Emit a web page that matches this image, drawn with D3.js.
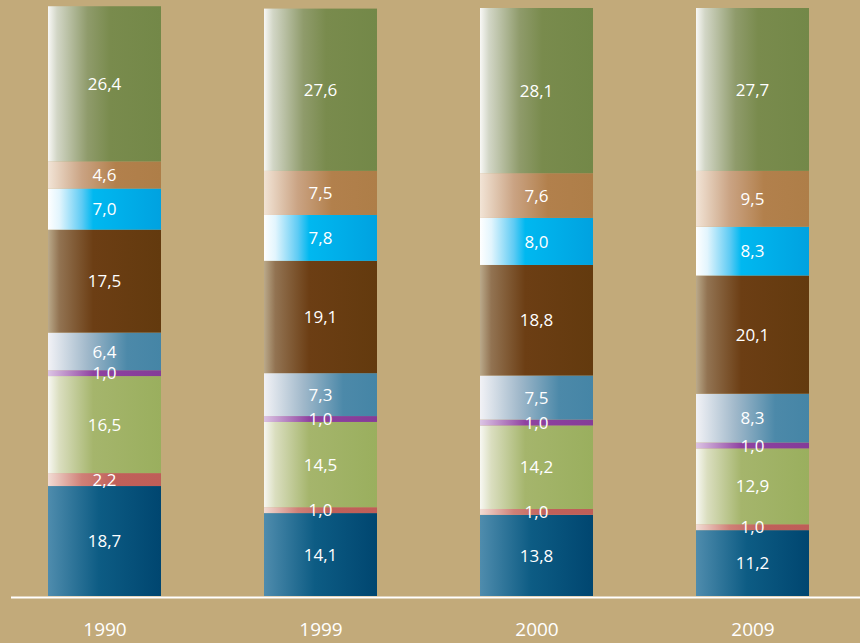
<!DOCTYPE html>
<html>
<head>
<meta charset="utf-8">
<script src="https://cdn.jsdelivr.net/npm/d3@7"></script>
<style>
  html, body { margin: 0; padding: 0; background: #c2aa7a; }
  svg { display: block; }
  text { font-family: "Open Sans", "Noto Sans", sans-serif; fill: #ffffff; }
</style>
</head>
<body>
<svg id="chart" width="860" height="643"></svg>
<script>
// Years on the x axis
const years = ["1990", "1999", "2000", "2009"];

// Stack layers, bottom to top
const layers = ["navy", "red", "lightGreen", "purple", "steel", "brown", "cyan", "tan", "olive"];

// Share of each layer (%) per year, bottom to top
const navy       = [18.7, 14.1, 13.8, 11.2];
const red        = [2.2, 1.0, 1.0, 1.0];
const lightGreen = [16.5, 14.5, 14.2, 12.9];
const purple     = [1.0, 1.0, 1.0, 1.0];
const steel      = [6.4, 7.3, 7.5, 8.3];
const brown      = [17.5, 19.1, 18.8, 20.1];
const cyan       = [7.0, 7.8, 8.0, 8.3];
const tan        = [4.6, 7.5, 7.6, 9.5];
const olive      = [26.4, 27.6, 28.1, 27.7];

const seriesValues = { navy, red, lightGreen, purple, steel, brown, cyan, tan, olive };

// Horizontal shading of each layer: pale at the left edge, full colour to the right
const shades = {
  navy:       [[0, "#4f8cad"], [0.45, "#0d5c84"], [1, "#004670"]],
  red:        [[0, "#f2dcd4"], [0.3, "#cf8077"], [0.6, "#c0605a"], [1, "#bf5e58"]],
  lightGreen: [[0, "#f8f8f3"], [0.1, "#dadebf"], [0.4, "#a5b56c"], [1, "#9aaf5e"]],
  purple:     [[0, "#dcc4e4"], [0.4, "#8f42a1"], [1, "#843c98"]],
  steel:      [[0, "#f2f2f6"], [0.35, "#a0b8ca"], [0.7, "#4c89a9"], [1, "#4585a6"]],
  brown:      [[0, "#baa98a"], [0.1, "#927352"], [0.4, "#6c3e14"], [1, "#633a0e"]],
  cyan:       [[0, "#ffffff"], [0.1, "#e2f5fd"], [0.3, "#5ecbf4"], [0.4, "#00b8f0"], [1, "#00a2e0"]],
  tan:        [[0, "#f2e4d6"], [0.3, "#caa383"], [0.6, "#b2804c"], [1, "#ae7e48"]],
  olive:      [[0, "#f8f8f6"], [0.08, "#d2d6c6"], [0.35, "#8f9b6b"], [0.55, "#798b4d"], [1, "#738848"]]
};

const rows = years.map((year, i) => {
  const row = { year };
  layers.forEach(k => { row[k] = seriesValues[k][i]; });
  return row;
});

const svg = d3.select("#chart");
const width = 860, height = 643;
const barWidth = 113;

const x = d3.scalePoint().domain(years).range([104.5, 752.5]);
const y = d3.scaleLinear().domain([0, 100]).range([596, 8]);

// Gradient definitions
const defs = svg.append("defs");
layers.forEach(k => {
  const g = defs.append("linearGradient")
    .attr("id", "grad-" + k)
    .attr("x1", "0%").attr("x2", "100%")
    .attr("y1", "0%").attr("y2", "0%");
  shades[k].forEach(([o, c]) => {
    g.append("stop").attr("offset", o).attr("stop-color", c);
  });
});

const stacked = d3.stack().keys(layers)(rows);

const layerGroups = svg.append("g").selectAll("g")
  .data(stacked)
  .join("g")
  .attr("fill", d => "url(#grad-" + d.key + ")");

layerGroups.selectAll("rect")
  .data(d => d)
  .join("rect")
  .attr("x", d => x(d.data.year) - barWidth / 2)
  .attr("width", barWidth)
  .attr("y", d => y(d[1]))
  .attr("height", d => y(d[0]) - y(d[1]));

// Value labels, centred on each segment
const fmt = v => v.toFixed(1).replace(".", ",");
svg.append("g").selectAll("g")
  .data(stacked)
  .join("g")
  .selectAll("text")
  .data(d => d.map(s => ({ s, key: d.key })))
  .join("text")
  .attr("x", d => x(d.s.data.year))
  .attr("y", d => (y(d.s[0]) + y(d.s[1])) / 2)
  .attr("dy", "0.36em")
  .attr("text-anchor", "middle")
  .attr("font-size", 17)
  .text(d => fmt(d.s.data[d.key]));

// Baseline
svg.append("line")
  .attr("x1", 11).attr("x2", width)
  .attr("y1", 597.5).attr("y2", 597.5)
  .attr("stroke", "#ffffff")
  .attr("stroke-width", 2);

// Year axis
const xAxis = d3.axisBottom(x).tickSize(0).tickPadding(0);
const axisG = svg.append("g")
  .attr("transform", "translate(0,622)")
  .call(xAxis);
axisG.select(".domain").remove();
axisG.selectAll("text")
  .attr("font-size", 19)
  .attr("fill", "#ffffff")
  .style("font-family", "\"Open Sans\", \"Noto Sans\", sans-serif");
</script>
</body>
</html>
